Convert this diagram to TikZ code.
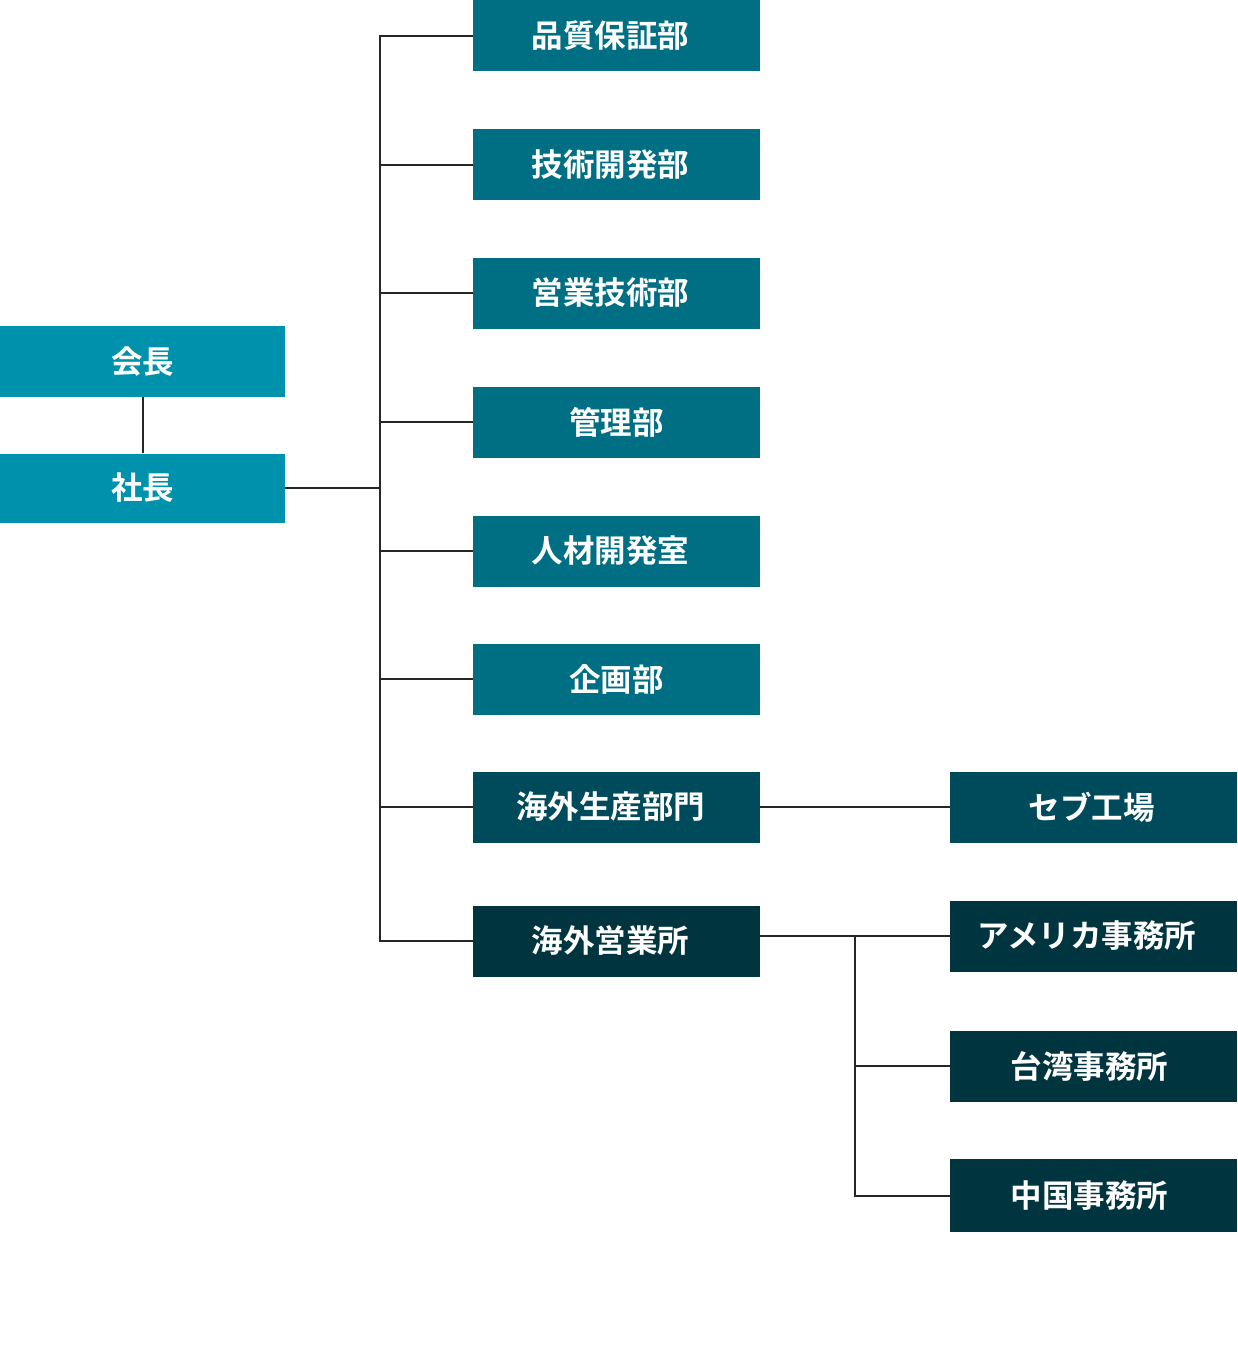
\documentclass[tikz,border=0pt]{standalone}
\usepackage{fontspec}
\newfontfamily\jp{Noto Sans CJK JP}[BoldFont=* Bold]
\definecolor{cTop}{HTML}{0091AD}
\definecolor{cDept}{HTML}{006F84}
\definecolor{cProd}{HTML}{004B5B}
\definecolor{cSales}{HTML}{003540}
\begin{document}
\begin{tikzpicture}[x=1pt,y=-1pt,
  box/.style={minimum height=71pt,inner sep=0pt,text=white,font=\jp\bfseries\fontsize{31.5}{31.5}\selectfont},
  topbox/.style={box,fill=cTop,minimum width=285pt},
  deptbox/.style={box,fill=cDept,minimum width=287pt},
  prodbox/.style={box,fill=cProd,minimum width=287pt},
  salesbox/.style={box,fill=cSales,minimum width=287pt},
  shiftl/.style={text width=287pt,align=center,xshift=0pt},
  link/.style={draw=black!85,line width=2pt}]
\useasboundingbox (0,0) rectangle (1238,1362);
\node[topbox] (kaicho) at (142.5,361.5) {会長};
\node[topbox,minimum height=69pt] (shacho) at (142.5,488) {社長};
\node[deptbox] (d1) at (616.5,36) {\hspace{-12pt}品質保証部};
\node[deptbox] (d2) at (616.5,164.5) {\hspace{-12pt}技術開発部};
\node[deptbox] (d3) at (616.5,293) {\hspace{-12pt}営業技術部};
\node[deptbox] (d4) at (616.5,422) {管理部};
\node[deptbox] (d5) at (616.5,551) {\hspace{-12pt}人材開発室};
\node[deptbox] (d6) at (616.5,679) {企画部};
\node[prodbox] (d7) at (616.5,807) {\hspace{-12pt}海外生産部門};
\node[salesbox] (d8) at (616.5,941) {\hspace{-12pt}海外営業所};
\node[prodbox] (cebu) at (1093.5,807) {\hspace{-4pt}セブ工場};
\node[salesbox] (us) at (1093.5,936) {\hspace{-14pt}アメリカ事務所};
\node[salesbox] (tw) at (1093.5,1066) {\hspace{-8pt}台湾事務所};
\node[salesbox,minimum height=73pt] (cn) at (1093.5,1195.5) {\hspace{-8pt}中国事務所};
\coordinate (trunkTop) at (380,36);
\coordinate (trunkBot) at (380,941);
\coordinate (subTop) at (855,936);
\draw[link] (kaicho.south) -- (shacho.north);
\draw[link] (shacho.east) -- (shacho.east -| trunkTop);
\draw[link] (d1.west) -- (trunkTop) -- (trunkBot) -- (d8.west);
\foreach \n in {d2,d3,d4,d5,d6,d7}{\draw[link] (\n.west) -- (\n.west -| trunkTop);}
\draw[link] (d7.east) -- (cebu.west);
\draw[link] (d8.east |- us.west) -- (us.west);
\draw[link] (subTop) -- (cn.west -| subTop) -- (cn.west);
\draw[link] (tw.west -| subTop) -- (tw.west);
\end{tikzpicture}
\end{document}
